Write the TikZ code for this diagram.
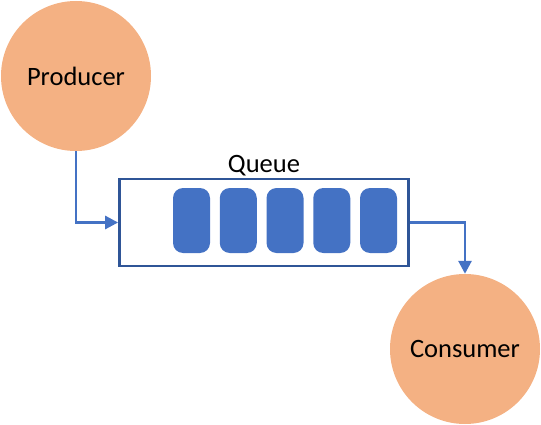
\documentclass[tikz,border=0pt]{standalone}
\usepackage{fontspec}
\setmainfont{Carlito}
\usepackage{tikz}
\usetikzlibrary{arrows.meta,positioning}
\definecolor{peach}{HTML}{F4B183}
\definecolor{itemblue}{HTML}{4472C4}
\definecolor{boxblue}{HTML}{2F5597}

\begin{document}
\begin{tikzpicture}[x=1pt,y=-1pt,
  actor/.style={circle,fill=peach,minimum size=150pt,inner sep=0pt,font=\fontsize{26.5}{30}\selectfont},
  queuebox/.style={draw=boxblue,line width=2.8pt,minimum width=289pt,minimum height=87pt,inner sep=0pt},
  slot/.style={fill=itemblue,rounded corners=10pt,minimum width=37pt,minimum height=65pt,inner sep=0pt},
  flow/.style={draw=itemblue,line width=2.8pt,-{Triangle[length=13pt,width=13pt]}}]
  \useasboundingbox (0,0) rectangle (541,425);

  \node[actor] (producer) at (76,76) {Producer};
  \node[actor] (consumer) at (465,349) {Consumer};

  \node[queuebox,label={[font=\fontsize{26.5}{30}\selectfont,inner sep=1pt]above:Queue}] (queue) at (264,222.5) {};

  \foreach \i in {0,...,4}
  {
    \node[slot] (item\i) at (191.5+46.75*\i,220.5) {};
  }

  \draw[flow] (producer.south) |- (queue.west);
  \draw[flow] (queue.east) -| (consumer.north);
\end{tikzpicture}
\end{document}
